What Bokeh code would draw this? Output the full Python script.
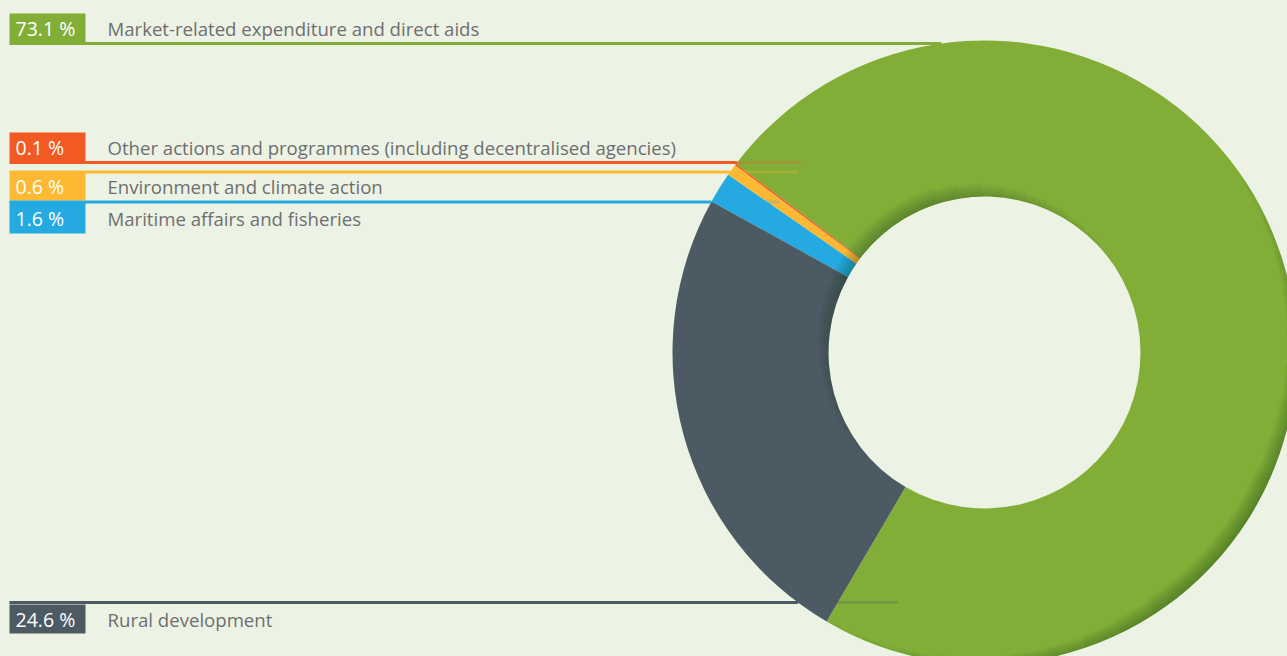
import numpy as np
from bokeh.plotting import figure
from bokeh.models import Range1d
from bokeh.core.properties import value
from bokeh.embed import file_html
from bokeh.resources import INLINE

# ---- data ----
categories = [
    "Market-related expenditure and direct aids",
    "Other actions and programmes (including decentralised agencies)",
    "Environment and climate action",
    "Maritime affairs and fisheries",
    "Rural development",
]
shares = [73.1, 0.1, 0.6, 1.6, 24.6]
colors = ["#82ae38", "#f15a22", "#fdb933", "#24aae1", "#4b5a63"]
pct_labels = [f"{v:.1f} %" for v in shares]

# ---- layout (page pixel coords) ----
BG = "#edf3e4"
TEXT = "#6d6e71"
W, H = 1287, 656
CX, CY = 984, 352         # donut centre (page coords)
R_OUT, R_IN = 312, 156
START_DEG = 239.6         # start angle of first slice (counter-clockwise)

# label rows: (box_top, box_bottom, line_y)
rows = [
    (13, 42, 43),
    (132, 161, 162),
    (172, 200, 171.5),
    (202, 233, 201.5),
    (604, 633, 602),
]
faint_ext = [0, 64, 68, 68, 100]

def yd(py):
    return H - py

p = figure(width=W, height=H, output_backend="svg",
           toolbar_location=None, x_range=Range1d(0, W),
           y_range=Range1d(0, H), min_border=0)
p.axis.visible = False
p.grid.visible = False
p.outline_line_color = None
p.background_fill_color = BG
p.border_fill_color = BG

# ---- donut ----
angles = np.array(shares) / 100.0 * 2 * np.pi
starts = np.deg2rad(START_DEG) + np.concatenate([[0], np.cumsum(angles)[:-1]])
ends = starts + angles
p.annular_wedge(x=CX, y=yd(CY), inner_radius=R_IN, outer_radius=R_OUT,
                start_angle=list(starts), end_angle=list(ends),
                fill_color=colors, line_color=None)

# soft shading (inner edge upper-left, outer edge lower-right)
N = 10
for k in range(N):
    t = 1.6 * (k + 1)
    c = np.deg2rad(130)
    hw = np.deg2rad(95 - 8 * k)
    p.annular_wedge(x=CX, y=yd(CY), inner_radius=R_IN, outer_radius=R_IN + t,
                    start_angle=c - hw, end_angle=c + hw,
                    fill_color="#1f3a10", fill_alpha=0.035, line_color=None)
    c2 = np.deg2rad(-40)
    hw2 = np.deg2rad(80 - 7 * k)
    p.annular_wedge(x=CX, y=yd(CY), inner_radius=R_OUT - t, outer_radius=R_OUT,
                    start_angle=c2 - hw2, end_angle=c2 + hw2,
                    fill_color="#1f3a10", fill_alpha=0.045, line_color=None)

# ---- labels, boxes and leader lines ----
for i, (cat, col, pct) in enumerate(zip(categories, colors, pct_labels)):
    top, bot, ly = rows[i]
    dy = ly - CY
    x_end = CX - np.sqrt(max(R_OUT ** 2 - dy ** 2, 0))
    p.quad(left=9, right=85, top=yd(top), bottom=yd(bot),
           fill_color=col, line_color=None)
    p.line(x=[9, x_end], y=[yd(ly), yd(ly)], line_color=col, line_width=3)
    if faint_ext[i]:
        p.line(x=[x_end, x_end + faint_ext[i]], y=[yd(ly), yd(ly)],
               line_color=col, line_width=3, line_alpha=0.25)
    mid = (top + bot) / 2
    p.text(x=[15], y=[yd(mid)], text=[pct], text_color="white",
           text_font=value("Open Sans"), text_font_size="19.5px",
           text_font_style="normal",
           text_baseline="middle", text_align="left")
    p.text(x=[107], y=[yd(mid)], text=[cat], text_color=TEXT,
           text_font=value("Open Sans"), text_font_size="18.6px",
           text_baseline="middle", text_align="left")

html = file_html(p, INLINE)
html = html.replace("<head>",
                    "<head><style>html,body{background:%s;margin:0;padding:0;overflow:hidden;}</style>" % BG, 1)
open("out.html", "w").write(html)
